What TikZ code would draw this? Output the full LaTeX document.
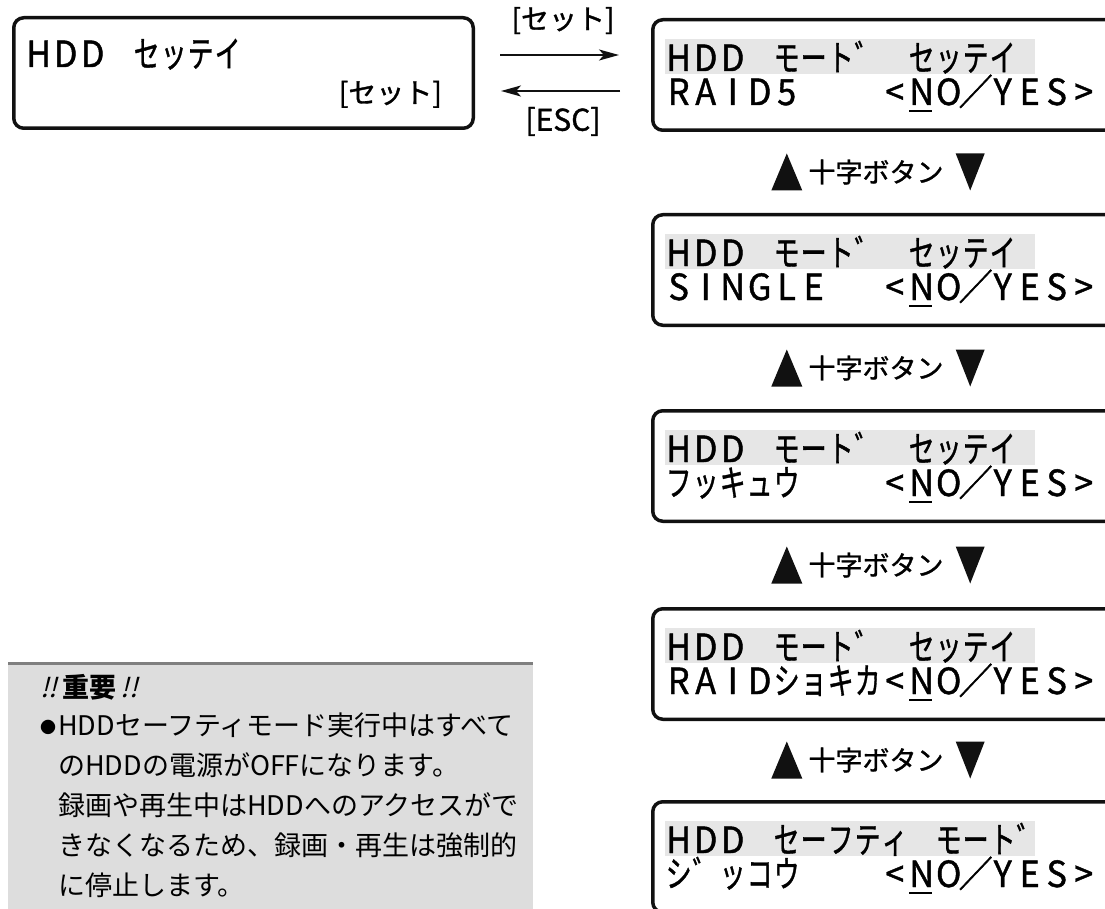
\documentclass[tikz,border=0pt]{standalone}
\usepackage{fontspec}
\usepackage{graphicx}
\usepackage{tikz}
\usetikzlibrary{arrows.meta,positioning}
\setmainfont{Noto Sans CJK JP}
\newfontfamily\slantjp[FakeSlant=0.25]{Noto Sans CJK JP}
\newfontfamily\heavyjp[FakeBold=1.2]{Noto Sans CJK JP}
\definecolor{Ink}{HTML}{111111}
\definecolor{Lcd}{HTML}{E6E6E6}
\definecolor{Note}{HTML}{DDDDDD}
\definecolor{NoteLine}{HTML}{7F7F7F}

\newlength\lcdw \setlength\lcdw{27pt}
\newcommand\lsp{\relax}
\newcommand\uN{N}
\def\lcdend{\lcdend}
\newcommand\lcdN{\rlap{\rule[-7pt]{0.66em}{1.8pt}}N}
\newcommand\lcdcell[1]{\makebox[\lcdw][c]{\ifx#1\lsp\else\ifx#1\uN\scalebox{0.95}[1]{\lcdN}\else
  \ifnum`#1>12287 \ifnum`#1<65280 \scalebox{0.72}[1]{#1}\else\scalebox{0.95}[1]{#1}\fi
  \else\scalebox{0.95}[1]{#1}\fi\fi\fi}}
\def\lcdloop#1{\ifx#1\lcdend\else\lcdcell{#1}\expandafter\lcdloop\fi}
\newcommand\lcd[1]{\lcdloop#1\lcdend}

\begin{document}
\begin{tikzpicture}[x=1pt,y=-1pt,
    lcdbox/.style={draw=Ink,line width=3.5pt,rounded corners=10pt,anchor=north west,inner sep=0pt,minimum height=110.5pt},
    lcd/.style={anchor=base west,inner sep=0pt,font=\heavyjp\fontsize{36}{36}\selectfont},
    txt/.style={inner sep=0pt,font=\fontsize{27}{27}\selectfont},
    key/.style={txt,font=\heavyjp\fontsize{28}{28}\selectfont},
    arr/.style={draw=Ink,line width=2pt,-{Stealth[length=20pt,width=11pt,inset=5pt]}}]
  \useasboundingbox (0,0) rectangle (1105,909);
  \clip (0,0) rectangle (1105,909);

  \node[lcdbox,minimum width=459.5pt] (set) at (12,16) {};
  \node[lcd] (setl) at (25,67) {\lcd{HDD\lsp セッテイ}};
  \node[key,anchor=base east] (setk) at (442,103) {[セット]};

  \foreach \i/\y/\ta/\tb in {1/18/{HDD\lsp モート゛\lsp セッテイ}/{RAID5\lsp\lsp\lsp<\uN O／YES>},
      2/213/{HDD\lsp モート゛\lsp セッテイ}/{SINGLE\lsp\lsp<\uN O／YES>},
      3/409/{HDD\lsp モート゛\lsp セッテイ}/{フッキュウ\lsp\lsp\lsp<\uN O／YES>},
      4/607/{HDD\lsp モート゛\lsp セッテイ}/{RAIDショキカ<\uN O／YES>},
      5/800/{HDD\lsp セーフティ\lsp モート゛}/{シ゛ッコウ\lsp\lsp\lsp<\uN O／YES>}}{
    \node[lcdbox,minimum width=520pt] (m\i) at (651,\y) {};
    \fill[Lcd] (665,\y+21) rectangle (1035,\y+56);
    \node[lcd] (t\i) at (665,\y+53) {\expandafter\lcd\expandafter{\ta}};
    \node[lcd] (b\i) at (665,\y+87) {\expandafter\lcd\expandafter{\tb}};
  }

  \draw[arr,shorten <=25pt,shorten >=32pt] ([yshift=18pt]set.east) -- ([yshift=18pt]set.east -| m1.west)
    node[key,midway,above=20pt] (go) {[セット]};
  \draw[arr,shorten <=31pt,shorten >=26pt] ([yshift=-18pt]set.east -| m1.west) -- ([yshift=-18pt]set.east)
    node[key,midway,below=15pt,font=\heavyjp\fontsize{30}{30}\selectfont] (esc) {[ESC]};

  \foreach \i/\y in {1/172,2/368,3/565,4/760}{
    \node[key,font=\heavyjp\fontsize{27}{27}\selectfont] (key\i) at (876,\y) {十字ボタン};
    \fill[Ink] ([shift={(-6,18.5)}]key\i.west) -- ++(-31,0) -- ++(15.5,-37) -- cycle;
    \fill[Ink] ([shift={(12,-18.5)}]key\i.east) -- ++(29,0) -- ++(-14.5,37) -- cycle;
  }

  \fill[Note] (8,663) rectangle (533,915);
  \draw[NoteLine,line width=3pt] (8,663) -- (533,663);
  \node[txt,anchor=base west] (imp) at (40,697) {{\slantjp !!}\,\textbf{重要}\,{\slantjp !!}};
  \node[txt,anchor=base west] (dot) at (40,733) {{\fontsize{16}{16}\selectfont ●}};
  \foreach \i/\t in {1/{HDDセーフティモード実行中はすべて},2/{のHDDの電源がOFFになります。},
      3/{録画や再生中はHDDへのアクセスがで},4/{きなくなるため、録画・再生は強制的},5/{に停止します。}}
    \node[txt,anchor=base west] (n\i) at (58,{695+40*\i}) {\t};
\end{tikzpicture}
\end{document}
